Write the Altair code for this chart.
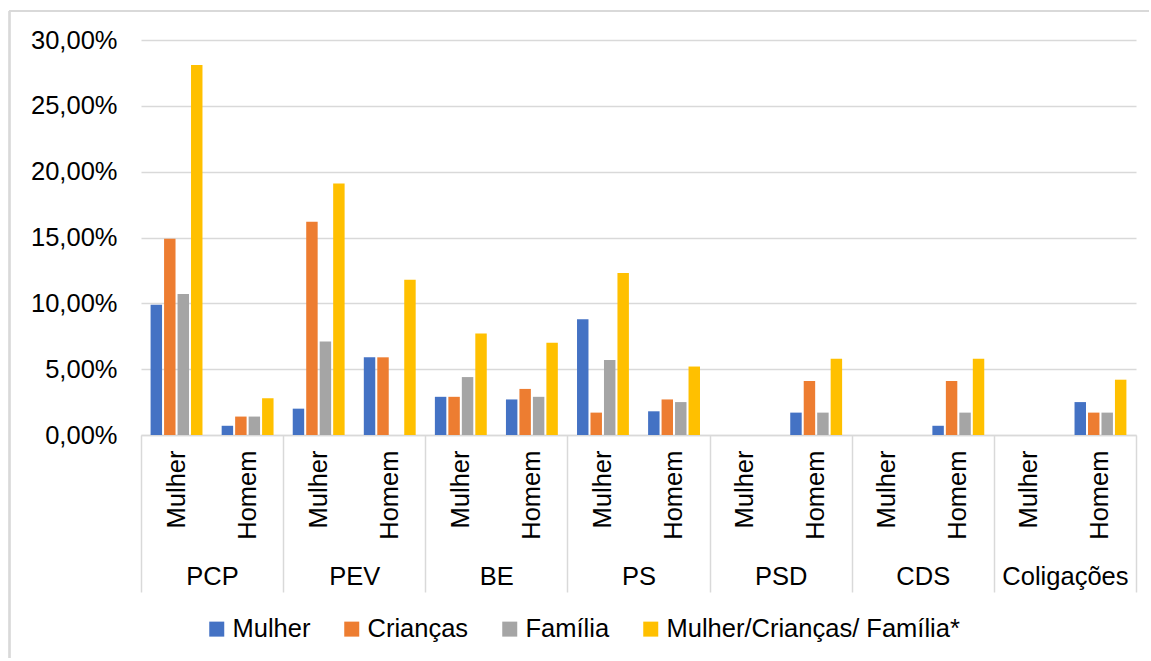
import altair as alt
import pandas as pd

parties = ["PCP", "PEV", "BE", "PS", "PSD", "CDS", "Coligações"]
genders = ["Mulher", "Homem"]
series = ["Mulher", "Crianças", "Família", "Mulher/Crianças/ Família*"]
colors = ["#4472C4", "#ED7D31", "#A5A5A5", "#FFC000"]

# values in %, order: PCP-M, PCP-H, PEV-M, PEV-H, BE-M, BE-H, PS-M, PS-H, PSD-M, PSD-H, CDS-M, CDS-H, Col-M, Col-H
v_mulher   = [9.9, 0.7, 2.0, 5.9, 2.9, 2.7, 8.8, 1.8, 0, 1.7, 0, 0.7, 0, 2.5]
v_criancas = [14.9, 1.4, 16.2, 5.9, 2.9, 3.5, 1.7, 2.7, 0, 4.1, 0, 4.1, 0, 1.7]
v_familia  = [10.7, 1.4, 7.1, 0, 4.4, 2.9, 5.7, 2.5, 0, 1.7, 0, 1.7, 0, 1.7]
v_todos    = [28.1, 2.8, 19.1, 11.8, 7.7, 7.0, 12.3, 5.2, 0, 5.8, 0, 5.8, 0, 4.2]

all_vals = [v_mulher, v_criancas, v_familia, v_todos]
keys = [f"{p}|{g}" for p in parties for g in genders]

rows = []
for s, vals in zip(series, all_vals):
    for k, v in zip(keys, vals):
        rows.append({"key": k, "serie": s, "valor": v / 100})
df = pd.DataFrame(rows)
party_df = pd.DataFrame({"party": parties})

FONT = "Liberation Sans"
FS = 25.5
GRID = "#d9d9d9"

bars = alt.Chart(df).mark_bar().encode(
    x=alt.X("key:N", sort=keys, title=None,
            scale=alt.Scale(paddingInner=0.27, paddingOuter=0.135),
            axis=alt.Axis(orient="bottom", labelExpr="split(datum.value, '|')[1]",
                          labelAngle=270, labelPadding=15, ticks=False,
                          domain=True, domainColor=GRID, domainWidth=1.5,
                          labelFontSize=FS, labelFont=FONT, labelColor="#000000",
                          grid=False)),
    xOffset=alt.XOffset("serie:N", sort=series,
                        scale=alt.Scale(paddingInner=0.15, paddingOuter=0)),
    y=alt.Y("valor:Q", title=None,
            scale=alt.Scale(domain=[0, 0.30], nice=False),
            axis=alt.Axis(values=[0, 0.05, 0.10, 0.15, 0.20, 0.25, 0.30],
                          labelExpr="replace(format(datum.value, '.2%'), '.', ',')",
                          labelPadding=24, ticks=False, domain=False,
                          gridColor=GRID, gridWidth=1.5,
                          labelFontSize=FS, labelFont=FONT, labelColor="#000000")),
    color=alt.Color("serie:N", sort=series, title=None,
                    scale=alt.Scale(domain=series, range=colors),
                    legend=alt.Legend(orient="none", direction="horizontal",
                                      legendX=63, legendY=576,
                                      symbolType="square", symbolSize=225,
                                      symbolStrokeWidth=0, labelOffset=3,
                                      columnPadding=28, labelLimit=500,
                                      labelFontSize=FS, labelFont=FONT,
                                      labelColor="#000000")),
)

party_layer = alt.Chart(party_df).mark_point(opacity=0).encode(
    x=alt.X("party:N", sort=parties, title=None,
            scale=alt.Scale(paddingInner=0, paddingOuter=0),
            axis=alt.Axis(orient="bottom", tickBand="extent", tickSize=157,
                          tickColor=GRID, tickWidth=1.5, domain=False,
                          labelAngle=0, labelPadding=-28, grid=False,
                          labelFontSize=FS, labelFont=FONT, labelColor="#000000")),
)

border_top = alt.Chart(party_df).mark_rule(color=GRID, strokeWidth=1.5).encode(
    x=alt.value(-131.5), x2=alt.value(1008), y=alt.value(-29))
border_left = alt.Chart(party_df).mark_rule(color=GRID, strokeWidth=1.5).encode(
    x=alt.value(-131.5), y=alt.value(-29), y2=alt.value(618))

chart = alt.layer(bars, party_layer, border_top, border_left).resolve_scale(
    x="independent"
).properties(
    width=995, height=395,
    padding={"left": 8, "top": 10, "right": 0, "bottom": 0},
    background="#ffffff",
).configure_view(stroke=None)

chart.save("out.html", embed_options={"renderer": "svg", "actions": False})
